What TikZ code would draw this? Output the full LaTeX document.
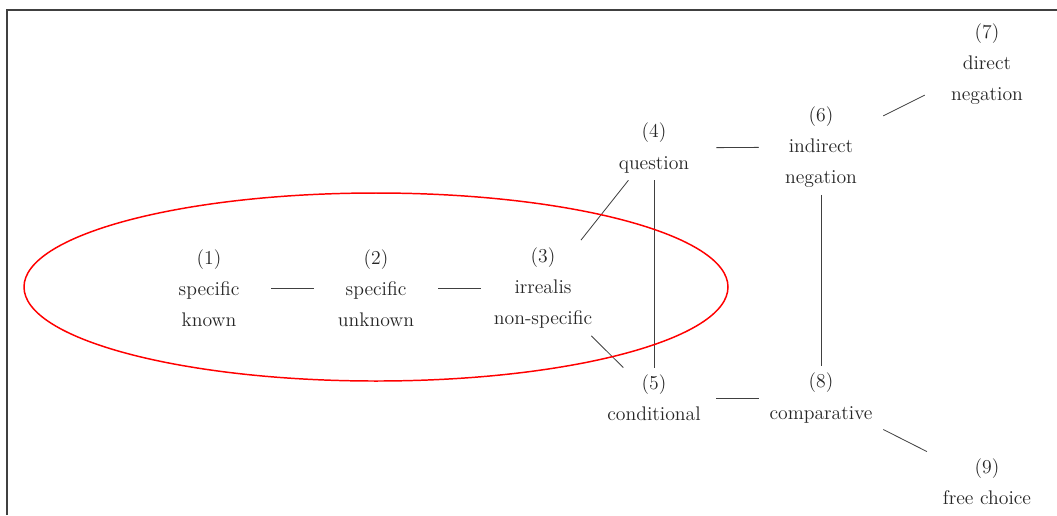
\documentclass[tikz,border=0pt]{standalone}
\usepackage{xcolor}
\usepackage{tikz}
\usetikzlibrary{positioning}

\begin{document}
\begin{tikzpicture}[x=0.0214cm, y=-0.0214cm,
  sense/.style={text width=2.65cm, align=center, inner xsep=0pt, inner ysep=0.15cm,
    font={\fontsize{12}{19}\selectfont}, text=black!85},
  link/.style={draw=black!75, line width=0.5pt}]
  \useasboundingbox (0,0) rectangle (1057,515);
  \draw[black!75, line width=1.2pt] (7,515) -- (7,10) -- (1057,10);
  % semantic map nodes
  \node[sense] (n1) at (209,288) {(1)\\specific\\known};
  \node[sense] (n2) at (376,288) {(2)\\specific\\unknown};
  \node[sense] (n3) at (543,288) {(3)\\irrealis\\non-specific};
  \node[sense] (n4) at (654,148) {(4)\\question};
  \node[sense] (n5) at (654,398) {(5)\\conditional};
  \node[sense] (n6) at (821,147) {(6)\\indirect\\negation};
  \node[sense] (n7) at (987,64) {(7)\\direct\\negation};
  \node[sense] (n8) at (821,398) {(8)\\comparative};
  \node[sense] (n9) at (987,482) {(9)\\free choice};
  % connections
  \draw[link] (n1) -- (n2);
  \draw[link] (n2) -- (n3);
  \draw[link] (n3) -- (n4);
  \draw[link] (n3) -- (n5);
  \draw[link] (n4) -- (n5);
  \draw[link] (n4) -- (n6);
  \draw[link] (n5) -- (n8);
  \draw[link] (n6) -- (n8);
  \draw[link] (n6) -- (n7);
  \draw[link] (n8) -- (n9);
  % region
  \draw[red, line width=0.9pt] (376,287) ellipse [x radius=352, y radius=94];
\end{tikzpicture}
\end{document}
